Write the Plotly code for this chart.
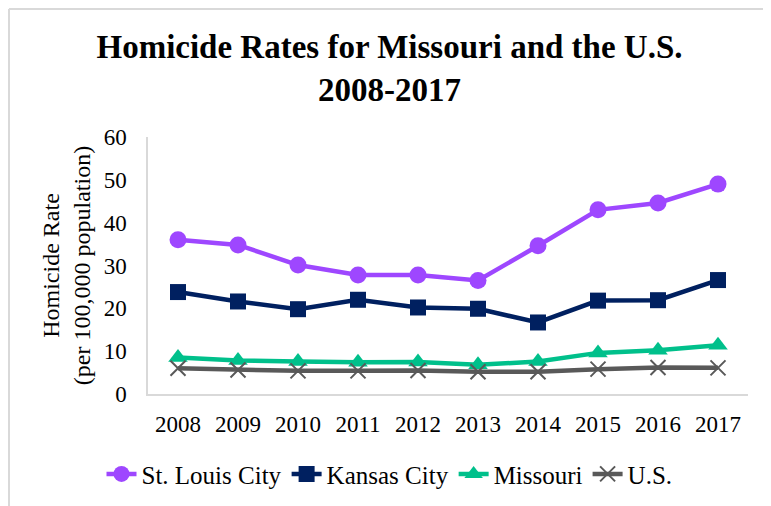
import plotly.graph_objects as go

years = ["2008", "2009", "2010", "2011", "2012", "2013", "2014", "2015", "2016", "2017"]
st_louis = [36.0, 34.8, 30.1, 27.8, 27.8, 26.5, 34.6, 43.0, 44.6, 49.0]
kansas_city = [23.8, 21.6, 19.8, 22.0, 20.2, 19.9, 16.7, 21.8, 21.9, 26.6]
missouri = [8.5, 7.8, 7.6, 7.4, 7.5, 6.8, 7.6, 9.6, 10.2, 11.4]
us = [6.0, 5.6, 5.4, 5.4, 5.5, 5.2, 5.2, 5.8, 6.2, 6.1]

SERIF = "Liberation Serif"

fig = go.Figure()
fig.add_trace(go.Scatter(x=years, y=st_louis, name="St. Louis City", mode="lines+markers",
                         line=dict(color="#9E47FF", width=4.5),
                         marker=dict(symbol="circle", size=17, color="#9E47FF")))
fig.add_trace(go.Scatter(x=years, y=kansas_city, name="Kansas City", mode="lines+markers",
                         line=dict(color="#002060", width=4.5),
                         marker=dict(symbol="square", size=16, color="#002060")))
fig.add_trace(go.Scatter(x=years, y=missouri, name="Missouri", mode="lines+markers",
                         line=dict(color="#00C08B", width=4.5),
                         marker=dict(symbol="triangle-up", size=17, color="#00C08B")))
fig.add_trace(go.Scatter(x=years, y=us, name="U.S.", mode="lines+markers",
                         line=dict(color="#595959", width=4.5),
                         marker=dict(symbol="x-thin", size=15, color="#595959",
                                     line=dict(color="#595959", width=2))))

fig.update_layout(
    width=763, height=498,
    margin=dict(l=140, r=23, t=129, b=112),
    paper_bgcolor="white", plot_bgcolor="white",
    font=dict(family=SERIF, size=23, color="black"),
    title=dict(text="<b>Homicide Rates for Missouri and the U.S.<br>2008-2017</b>",
               x=0.5, xanchor="center", xref="container", y=0.899, yanchor="top",
               yref="container",
               font=dict(family=SERIF, size=33, color="black")),
    showlegend=True,
    legend=dict(orientation="h", x=0.5, xanchor="center", xref="container",
                y=0.064, yref="container", yanchor="middle",
                font=dict(family=SERIF, size=25, color="black"),
                itemwidth=30, tracegroupgap=0),
    xaxis=dict(type="category", showgrid=False, showline=True, linecolor="#D9D9D9",
               linewidth=1.5, ticks="", tickfont=dict(family=SERIF, size=23, color="black"),
               ticklabelstandoff=9, range=[-0.5, 9.5]),
    yaxis=dict(range=[0, 60], dtick=10, showgrid=False, showline=True, linecolor="#D9D9D9",
               linewidth=1.5, ticks="", zeroline=False,
               tickfont=dict(family=SERIF, size=23, color="black"),
               ticklabelstandoff=15,
               title=dict(text="Homicide Rate<br>(per 100,000 population)",
                          font=dict(family=SERIF, size=24, color="black"), standoff=6)),
    shapes=[
        dict(type="line", xref="paper", yref="paper", x0=-0.2317, x1=-0.2317, y0=-0.6, y1=1.498,
             line=dict(color="#D9D9D9", width=2)),
        dict(type="line", xref="paper", yref="paper", x0=-0.2317, x1=1.2, y0=1.498, y1=1.498,
             line=dict(color="#D9D9D9", width=2)),
    ],
)

fig.write_html("out.html")
